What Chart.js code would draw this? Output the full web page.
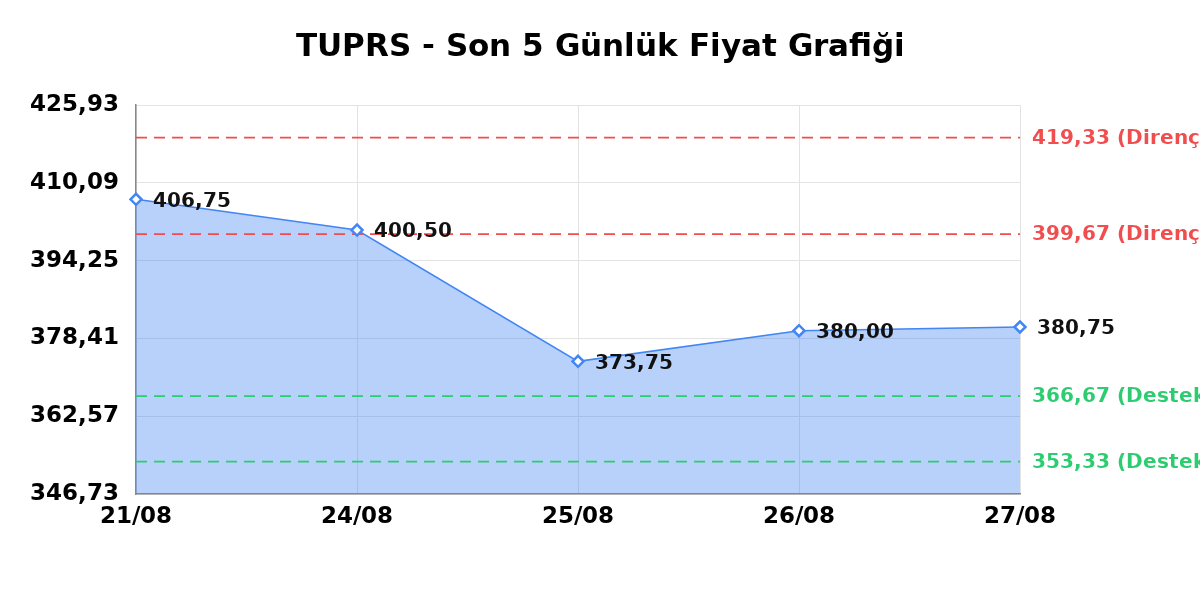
<!DOCTYPE html>
<html>
<head>
<meta charset="utf-8">
<script src="https://cdn.jsdelivr.net/npm/chart.js@4/dist/chart.umd.min.js"></script>
<style>
@font-face {
    font-family: 'DVS';
    src: local('DejaVu Sans Bold'), local('DejaVuSans-Bold'), local('DejaVu Sans');
    font-weight: bold;
}
@font-face {
    font-family: 'DVS';
    src: local('DejaVu Sans'), local('DejaVuSans'), local('DejaVu Sans Book');
    font-weight: normal;
}
html, body { margin: 0; background: #fff; }
#wrap { width: 1200px; height: 600px; }
</style>
</head>
<body>
<div id="wrap"><canvas id="c"></canvas></div>
<script>
const days = ['21/08', '24/08', '25/08', '26/08', '27/08'];
const prices = [406.75, 400.50, 373.75, 380.00, 380.75];
const yTicks = [346.73, 362.57, 378.41, 394.25, 410.09, 425.93];
const resistance = [419.33, 399.67];
const support = [366.67, 353.33];

const FONT = "DVS, 'DejaVu Sans', Verdana, sans-serif";
const fmt = v => v.toFixed(2).replace('.', ',');

// destek / direnç çizgileri (dolgunun üstünde) ve nokta etiketleri
const levelsPlugin = {
    id: 'levels',
    beforeDatasetsDraw(chart) {
        const { ctx, chartArea, scales } = chart;
        const lines = [
            ...resistance.map(v => ({ v, color: '#f04e4e', text: fmt(v) + ' (Direnç)' })),
            ...support.map(v => ({ v, color: '#2ecc71', text: fmt(v) + ' (Destek)' }))
        ];
        ctx.save();
        lines.forEach(l => {
            const y = scales.y.getPixelForValue(l.v);
            ctx.strokeStyle = l.color;
            ctx.lineWidth = 1.8;
            ctx.setLineDash([11, 7]);
            ctx.beginPath();
            ctx.moveTo(chartArea.left, y);
            ctx.lineTo(chartArea.right, y);
            ctx.stroke();
            ctx.setLineDash([]);
            ctx.fillStyle = l.color;
            ctx.font = 'bold 20px ' + FONT;
            ctx.textAlign = 'left';
            ctx.textBaseline = 'middle';
            ctx.fillText(l.text, chartArea.right + 12, y + 1);
        });
        ctx.restore();
    },
    afterDatasetsDraw(chart) {
        const { ctx } = chart;
        const meta = chart.getDatasetMeta(0);
        ctx.save();
        ctx.fillStyle = '#111';
        ctx.font = 'bold 20px ' + FONT;
        ctx.textAlign = 'left';
        ctx.textBaseline = 'middle';
        meta.data.forEach((pt, i) => {
            ctx.fillText(fmt(prices[i]), pt.x + 17, pt.y + 2);
        });
        ctx.restore();
    }
};

function draw() {
    new Chart(document.getElementById('c'), {
        type: 'line',
        data: {
            labels: days,
            datasets: [{
                data: prices,
                yAxisID: 'y',
                borderColor: '#4285f4',
                backgroundColor: 'rgba(66,133,244,0.38)',
                borderWidth: 1.5,
                fill: 'start',
                tension: 0,
                pointStyle: 'rectRot',
                pointRadius: 5.5,
                pointBorderWidth: 2.5,
                pointBackgroundColor: '#fff',
                pointBorderColor: '#4285f4',
                clip: false
            }]
        },
        options: {
            responsive: true,
            maintainAspectRatio: false,
            animation: false,
            layout: { padding: 0 },
            plugins: {
                legend: { display: false },
                tooltip: { enabled: false },
                filler: { drawTime: 'beforeDatasetsDraw' },
                title: {
                    display: true,
                    text: 'TUPRS - Son 5 Günlük Fiyat Grafiği',
                    color: '#000',
                    font: { family: FONT, size: 31, weight: 'bold', lineHeight: 1.2 },
                    padding: { top: 29, bottom: 39 }
                }
            },
            scales: {
                x: {
                    offset: false,
                    grid: { color: '#e3e3e3', drawTicks: false },
                    border: { color: '#888', width: 1.5 },
                    ticks: {
                        color: '#000',
                        font: { family: FONT, size: 23, weight: 'bold' },
                        padding: 9,
                        maxRotation: 0
                    },
                    afterFit(s) { s.height = 106; }
                },
                y: {
                    min: yTicks[0],
                    max: yTicks[yTicks.length - 1],
                    grid: { color: '#e3e3e3', drawTicks: false },
                    border: { color: '#888', width: 1.5 },
                    afterBuildTicks(s) { s.ticks = yTicks.map(v => ({ value: v })); },
                    ticks: {
                        color: '#000',
                        font: { family: FONT, size: 23, weight: 'bold' },
                        padding: 17,
                        callback: v => fmt(v)
                    },
                    afterFit(s) { s.width = 136; }
                },
                // sağdaki etiketler için boş alan
                yRight: {
                    position: 'right',
                    grid: { display: false },
                    border: { display: false },
                    ticks: { display: false },
                    afterFit(s) { s.width = 180; }
                }
            }
        },
        plugins: [levelsPlugin]
    });
}

Promise.all([
    document.fonts.load('bold 20px DVS'),
    document.fonts.load('20px DVS')
]).then(draw, draw);
</script>
</body>
</html>
